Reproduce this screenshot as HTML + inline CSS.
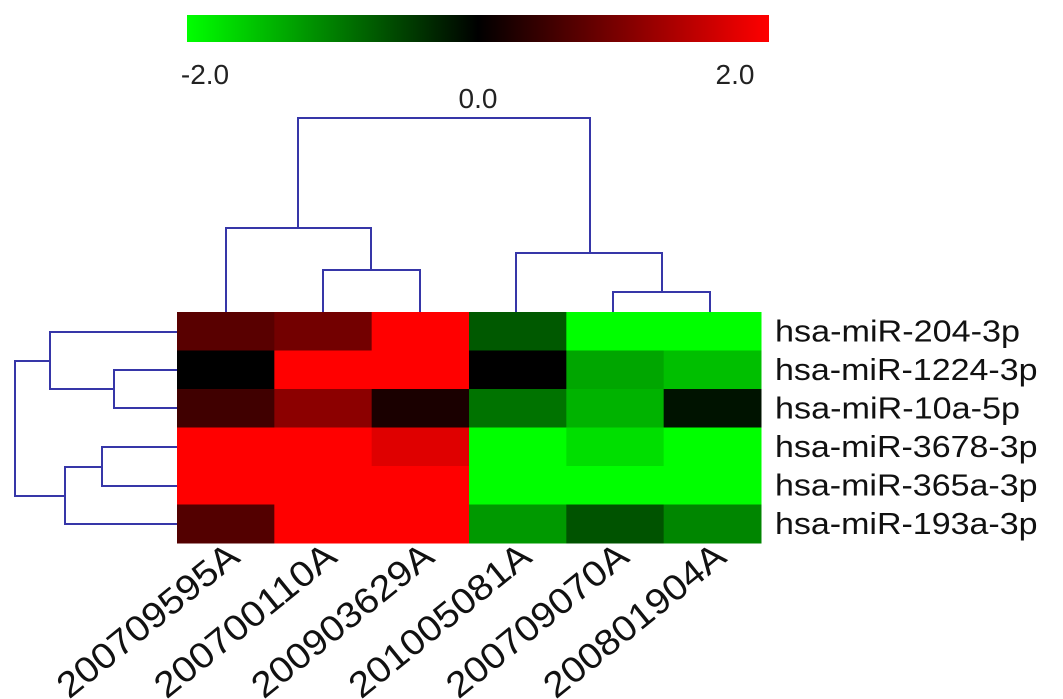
<!DOCTYPE html>
<html><head><meta charset="utf-8"><style>
html,body{margin:0;padding:0;background:#fff;}
svg{display:block;font-family:"Liberation Sans",sans-serif;}
</style></head><body>
<svg id="chart" width="1063" height="699" viewBox="0 0 1063 699">
<defs>
<linearGradient id="cb" x1="0" x2="1" y1="0" y2="0">
<stop offset="0" stop-color="#00ff00"/><stop offset="0.5" stop-color="#000000"/><stop offset="1" stop-color="#ff0000"/>
</linearGradient>
</defs>
<rect x="187" y="15" width="582" height="27" fill="url(#cb)"/>
<g font-size="28" fill="#222">
<text x="205" y="84" text-anchor="middle">-2.0</text>
<text x="478" y="108" text-anchor="middle">0.0</text>
<text x="735" y="84" text-anchor="middle">2.0</text>
</g>
<g id="cells"></g>
<g id="dendro" stroke="#3636a8" stroke-width="2" fill="none"></g>
<g id="labels" fill="#111"></g>
</svg>
<script>
const samples=["200709595A","200700110A","200903629A","201005081A","200709070A","200801904A"];
const genes=["hsa-miR-204-3p","hsa-miR-1224-3p","hsa-miR-10a-5p","hsa-miR-3678-3p","hsa-miR-365a-3p","hsa-miR-193a-3p"];
const row0=[0.7,0.9,2,-0.7,-2,-2];
const row1=[0,2,2,0,-1.3,-1.5];
const row2=[0.5,1.1,0.2,-0.9,-1.4,-0.15];
const row3=[2,2,1.75,-2,-1.75,-2];
const row4=[2,2,2,-2,-2,-2];
const row5=[0.65,2,2,-1.2,-0.65,-1.05];
const values=[row0,row1,row2,row3,row4,row5];
const NS="http://www.w3.org/2000/svg";
const X0=177,X1=761,Y0=312,Y1=543;
const cw=(X1-X0)/samples.length, rh=(Y1-Y0)/genes.length;
const xOf=i=>X0+i*cw, yOf=j=>Y0+j*rh;
function color(v){v=Math.max(-2,Math.min(2,v));const t=Math.round(Math.abs(v)/2*255);return v>=0?`rgb(${t},0,0)`:`rgb(0,${t},0)`;}
const cells=document.getElementById('cells');
values.forEach((row,j)=>row.forEach((v,i)=>{
const r=document.createElementNS(NS,'rect');
r.setAttribute('x',xOf(i));r.setAttribute('y',yOf(j));
r.setAttribute('width',cw+0.5);r.setAttribute('height',rh+0.5);
r.setAttribute('fill',color(v));


cells.appendChild(r);}));
const labels=document.getElementById('labels');
genes.forEach((g,j)=>{
const t=document.createElementNS(NS,'text');
t.setAttribute('x',775);t.setAttribute('y',yOf(j)+rh/2+10);
t.setAttribute('font-size','31');
t.setAttribute('textLength',g.length*17.5);
t.setAttribute('lengthAdjust','spacingAndGlyphs');
t.textContent=g;


labels.appendChild(t);});
samples.forEach((s,i)=>{
const t=document.createElementNS(NS,'text');
const cx=xOf(i)+cw/2+16, cy=560;
t.setAttribute('x',cx);t.setAttribute('y',cy);
t.setAttribute('font-size','36');
t.setAttribute('text-anchor','end');
t.setAttribute('textLength','222');
t.setAttribute('lengthAdjust','spacingAndGlyphs');
t.setAttribute('transform',`rotate(-39 ${cx} ${cy})`);
t.textContent=s;


labels.appendChild(t);});
const dendroPaths=[
"M226 312V228H371V270M323 312V270H420V312",
"M516 312V253H662V292M613 312V292H710V312",
"M298 228V118H590V253",
"M177 332H50V389H114V370H177M114 389V408H177M50 361H15V496H65V467H102V447H177M102 467V486H177M65 496V524H177"
];
const dg=document.getElementById('dendro');
dendroPaths.forEach(d=>{const p=document.createElementNS(NS,'path');p.setAttribute('d',d);


dg.appendChild(p);});
</script>
</body></html>
